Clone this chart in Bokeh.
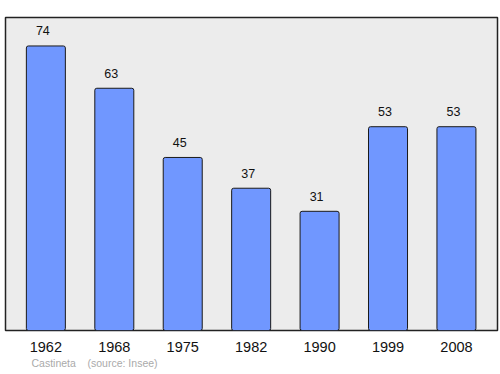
from bokeh.plotting import figure
from bokeh.models import FixedTicker, Title, ColumnDataSource, Range1d
from bokeh.core.properties import value
from bokeh.embed import file_html
from bokeh.resources import INLINE

years = ["1962", "1968", "1975", "1982", "1990", "1999", "2008"]
population = [74, 63, 45, 37, 31, 53, 53]
commune = "Castineta"
source_note = "(source: Insee)"

xs = list(range(len(years)))
src = ColumnDataSource(dict(x=xs, pop=population, lab=[str(v) for v in population]))

p = figure(width=500, height=374, output_backend="svg", toolbar_location=None,
           x_range=Range1d(-0.59, 6.6), y_range=Range1d(0, max(population) * 1.1),
           y_axis_location=None, min_border_left=5, min_border_right=3,
           min_border_top=17, min_border_bottom=44)
p.background_fill_color = "#ececec"
p.border_fill_color = "white"
p.outline_line_color = "#222222"
p.outline_line_width = 1.5
p.grid.visible = False

p.vbar(x="x", top="pop", width=0.57, source=src, fill_color="#7097ff",
       line_color="#1a1a1a", line_width=1, border_radius=2)
p.text(x="x", y="pop", text="lab", source=src, text_align="center",
       text_baseline="alphabetic", y_offset=-15, x_offset=-3,
       text_font=value("Liberation Sans"),
       text_font_size="12.5px", text_color="#111111")

ax = p.xaxis[0]
ax.ticker = FixedTicker(ticks=xs)
ax.major_label_overrides = {i: y for i, y in zip(xs, years)}
ax.axis_line_color = None
ax.major_tick_line_color = None
ax.minor_tick_line_color = None
ax.major_label_text_font = "Liberation Sans"
ax.major_label_text_font_size = "14.5px"
ax.major_label_text_color = "#111111"
ax.major_label_standoff = 5

footer = Title(text=commune + "\u00a0\u00a0\u00a0\u00a0" + source_note, align="left",
               offset=26, text_font="Liberation Sans", text_font_size="10.5px",
               text_color="#aaaaaa", text_font_style="normal", standoff=0)
p.add_layout(footer, "below")

open("out.html", "w").write(file_html(p, INLINE))
